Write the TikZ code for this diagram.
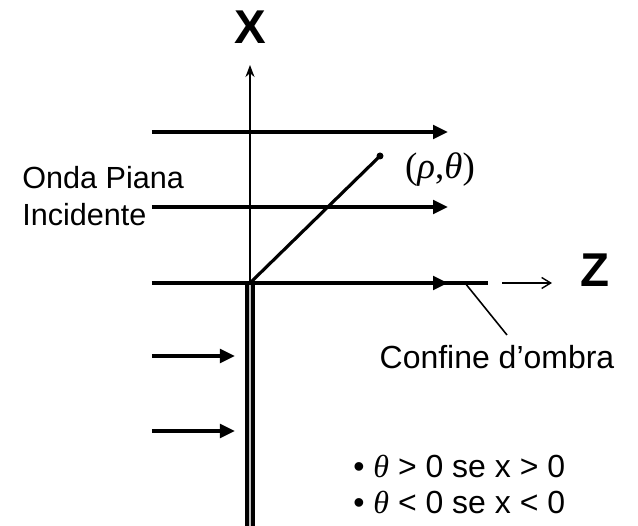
\documentclass[tikz,border=0pt]{standalone}
\usepackage{fontspec}
\setmainfont{Liberation Sans}
\newfontfamily\grk{Liberation Serif}
\usetikzlibrary{arrows.meta}

\begin{document}
\begin{tikzpicture}[wave/.style={line width=2pt, -{Triangle[length=0.3cm,width=0.27cm]}},
    lbl/.style={font=\fontsize{18.2}{20.6}\selectfont, inner sep=0pt},
    big/.style={font=\bfseries\fontsize{27}{30}\selectfont, inner sep=0pt}]
    \useasboundingbox (-5,-4.86) rectangle (7.76,5.66);
    \coordinate (O) at (0,0);
    \coordinate (B) at (0,-4.95);
    % lo schermo
    \draw[line width=2pt, double=gray!50, double distance=1.6pt] (O) -- (B);
    \foreach \i/\y/\e in {1/3.02/3.96,2/1.52/3.96,3/0/3.96,4/-1.46/-0.3,5/-2.96/-0.3} {
        \coordinate (s\i) at (-1.96,\y);
        \coordinate (e\i) at (\e,\y);
        \draw[wave] (s\i) -- (e\i);
    }
    \coordinate (f3) at (4.76,0);
    \draw[line width=2pt] (s3) -- (f3);
    % assi
    \coordinate (xa) at (0,4.36);
    \draw[line width=1.1pt, -{Stealth[length=0.24cm,width=0.18cm]}] (O) -- (xa);
    \node[big] (xl) at (0,5.12) {X};
    \coordinate (z1) at (5.04,0);
    \coordinate (z2) at (6.04,0);
    \draw[line width=0.8pt, -{Straight Barb[length=0.18cm,width=0.22cm]}] (z1) -- (z2);
    \node[big] (zl) at (6.9,0.26) {Z};
    % punto di osservazione
    \coordinate (P) at (2.6,2.54);
    \draw[line width=1.8pt] (O) -- (P);
    \fill (P) circle (0.07);
    \node[font=\grk\fontsize{21}{24}\selectfont, inner sep=0pt] (pt) at (3.8,2.26) {(\textit{ρ},\textit{θ})};
    \node[lbl, font=\fontsize{17.4}{20.6}\selectfont, align=left, anchor=west] (onda) at (-4.56,1.74) {Onda Piana\\Incidente};
    \coordinate (c1) at (4.3,0);
    \coordinate (c2) at (5.14,-1.04);
    \draw[line width=0.9pt] (c1) -- (c2);
    \node[lbl] (conf) at (4.94,-1.48) {Confine d’ombra};
    \node[lbl, align=left, anchor=west] (cond) at (2.06,-4.03)
        {• {\grk\itshape θ} > 0 se x > 0\\• {\grk\itshape θ} < 0 se x < 0};
\end{tikzpicture}
\end{document}
